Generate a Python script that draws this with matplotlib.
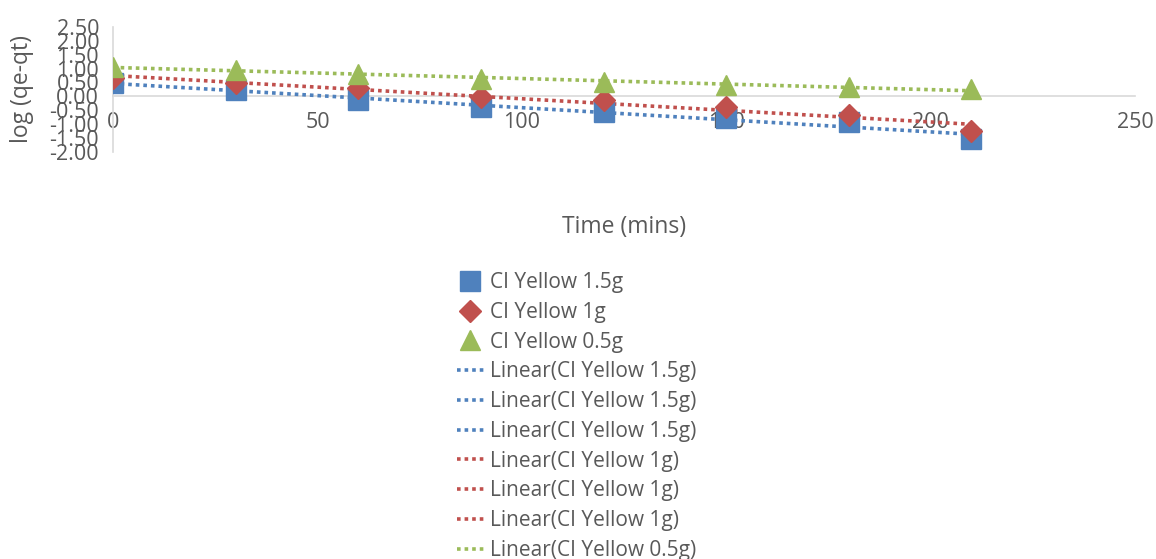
import numpy as np
import matplotlib
matplotlib.use("Agg")
from matplotlib import pyplot as plt
from matplotlib.lines import Line2D

plt.rcParams['font.family'] = ['Open Sans', 'DejaVu Sans']

# sampling times (mins)
time = [0, 30, 60, 90, 120, 150, 180, 210]

# log(qe-qt) for each dose
yellow_15 = [0.47, 0.23, -0.13, -0.37, -0.55, -0.79, -0.91, -1.54]
yellow_1 = [0.65, 0.47, 0.29, -0.01, -0.13, -0.37, -0.67, -1.24]
yellow_05 = [1.07, 0.95, 0.81, 0.61, 0.53, 0.41, 0.33, 0.26]

names = ['CI Yellow 1.5g', 'CI Yellow 1g', 'CI Yellow 0.5g']
colours = ['#4F81BD', '#C0504D', '#9BBB59']
markers = ['s', 'D', '^']
msizes = [14, 11, 14]
# how many trendline entries each series has in the legend
n_trend = [3, 3, 1]

text_grey = '#595959'

fig = plt.figure(figsize=(11.56, 5.59), dpi=100)
ax = fig.add_axes([0.0978, 0.728, 0.884, 0.224])

series = [yellow_15, yellow_1, yellow_05]
t = np.array(time)
for i, ys in enumerate(series):
    slope, icpt = np.polyfit(t, ys, 1)
    xs = np.array([t.min(), t.max()])
    ax.plot(xs, slope * xs + icpt, color=colours[i], lw=2.6,
            linestyle=(0, (1, 1.1)), zorder=2)
for i, ys in enumerate(series):
    ax.plot(time, ys, linestyle='none', marker=markers[i], ms=msizes[i],
            color=colours[i], mec=colours[i], zorder=3 + i)

ax.set_xlim(0, 250)
ax.set_ylim(-2, 2.5)
ax.set_xticks([0, 50, 100, 150, 200, 250])
ax.set_yticks(np.arange(-2, 2.51, 0.5))
ax.set_yticklabels(['%.2f' % v for v in np.arange(-2, 2.51, 0.5)])

for s in ['top', 'right']:
    ax.spines[s].set_visible(False)
ax.spines['bottom'].set_position(('data', 0))
ax.spines['left'].set_position(('data', 0))
for s in ['bottom', 'left']:
    ax.spines[s].set_color('#D9D9D9')
    ax.spines[s].set_linewidth(1.2)
ax.spines['bottom'].set_zorder(1)

ax.tick_params(axis='x', length=0, pad=11, labelsize=15.5, labelcolor=text_grey)
ax.tick_params(axis='y', length=0, pad=10, labelsize=15.5, labelcolor=text_grey)

ax.set_xlabel('Time (mins)', fontsize=16.5, color=text_grey)
ax.xaxis.set_label_coords(0.5, -0.5)
ax.set_ylabel('log (qe-qt)', fontsize=16.5, color=text_grey)
ax.yaxis.set_label_coords(-0.077, 0.5)

handles = []
labels = []
for i in range(3):
    handles.append(Line2D([], [], linestyle='none', marker=markers[i],
                          ms=msizes[i], color=colours[i]))
    labels.append(names[i])
for i in range(3):
    for k in range(n_trend[i]):
        handles.append(Line2D([], [], color=colours[i], lw=2.6,
                              linestyle=(0, (1, 1.1))))
        labels.append('Linear(' + names[i] + ')')

leg = fig.legend(handles, labels, loc='upper left',
                 bbox_to_anchor=(0.388, 0.528), frameon=False, fontsize=15,
                 labelspacing=0.42, handlelength=1.3, handletextpad=0.3,
                 borderaxespad=0)
for txt in leg.get_texts():
    txt.set_color(text_grey)

fig.savefig('out.png', dpi=100)
